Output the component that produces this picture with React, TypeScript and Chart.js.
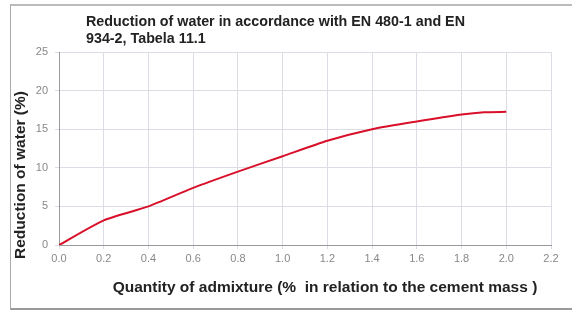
import React, { useEffect, useRef } from "react";
import { Chart, registerables } from "chart.js";

Chart.register(...registerables);

const xValues = [0.0, 0.2, 0.4, 0.6, 0.8, 1.0, 1.2, 1.4, 1.6, 1.8, 1.9, 2.0];
const waterReduction = [0, 3.2, 5.0, 7.4, 9.5, 11.5, 13.5, 15.0, 16.0, 16.9, 17.2, 17.25];
const titleLines = ["Reduction of water in accordance with EN 480-1 and EN", "934-2, Tabela 11.1"];
const yTitle = "Reduction of water (%)";
const xTitle = "Quantity of admixture (%  in relation to the cement mass )";

const FONT = "'Liberation Sans', Arial, sans-serif";

const textPlugin = {
  id: "texts",
  afterDraw(chart: any) {
    const ctx = chart.ctx;
    ctx.save();
    ctx.fillStyle = "#222";
    ctx.font = `bold 14.3px ${FONT}`;
    ctx.textAlign = "left";
    ctx.textBaseline = "alphabetic";
    titleLines.forEach((t, i) => ctx.fillText(t, 86, 26 + i * 17));

    ctx.font = `bold 15.5px ${FONT}`;
    ctx.textAlign = "center";
    ctx.textBaseline = "middle";
    ctx.fillText(xTitle, 325, 288);

    ctx.translate(21, 175);
    ctx.rotate(-Math.PI / 2);
    ctx.fillText(yTitle, 0, 0);
    ctx.restore();
  },
};

export default function App() {
  const ref = useRef<HTMLCanvasElement>(null);
  useEffect(() => {
    document.body.style.margin = "0";
    document.body.style.overflow = "hidden";
    const chart = new Chart(ref.current!, {
      type: "line",
      data: {
        datasets: [
          {
            data: xValues.map((x, i) => ({ x, y: waterReduction[i] })),
            borderColor: "#d8102a",
            borderWidth: 2,
            pointRadius: 0,
            tension: 0.2,
            fill: false,
          },
        ],
      },
      options: {
        animation: false,
        responsive: false,
        layout: { padding: { left: 10, top: 52, right: 21, bottom: 0 } },
        plugins: { legend: { display: false }, title: { display: false }, tooltip: { enabled: false } },
        scales: {
          x: {
            type: "linear",
            min: 0,
            max: 2.2,
            afterFit: (s: any) => { s.height = 69; },
            ticks: {
              stepSize: 0.2,
              color: "#888",
              font: { family: FONT, size: 11 },
              padding: 3,
              maxRotation: 0,
              callback: (v: any) => Number(v).toFixed(1),
            },
            grid: { color: "#dcdce4", tickLength: 4 },
            border: { color: "#999" },
          },
          y: {
            min: 0,
            max: 25,
            afterFit: (s: any) => { s.width = 49; },
            ticks: { stepSize: 5, color: "#888", font: { family: FONT, size: 11 }, padding: 7 },
            grid: { color: "#dcdce4", tickLength: 4 },
            border: { color: "#999" },
          },
        },
      },
      plugins: [textPlugin],
    } as any);
    return () => chart.destroy();
  }, []);
  return (
    <div style={{ position: "relative", width: 572, height: 314 }}>
      <div
        style={{
          position: "absolute",
          left: 10,
          top: 4,
          width: 570,
          height: 306,
          borderTop: "2px solid #bbb",
          borderLeft: "1px solid #aaa",
          borderBottom: "2px solid #999",
          boxSizing: "border-box",
        }}
      />
      <canvas ref={ref} width={572} height={314} style={{ position: "absolute", left: 0, top: 0, display: "block" }} />
    </div>
  );
}
